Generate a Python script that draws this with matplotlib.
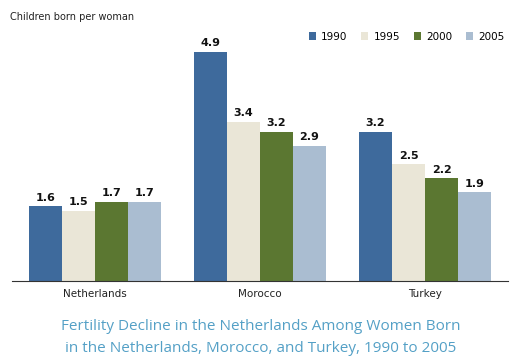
import numpy as np
import matplotlib
matplotlib.use("Agg")
import matplotlib.pyplot as plt
from matplotlib.patches import Patch

countries = ["Netherlands", "Morocco", "Turkey"]
years = ["1990", "1995", "2000", "2005"]
v1990 = [1.6, 4.9, 3.2]
v1995 = [1.5, 3.4, 2.5]
v2000 = [1.7, 3.2, 2.2]
v2005 = [1.7, 2.9, 1.9]
series = [v1990, v1995, v2000, v2005]
colors = ["#3e6a9c", "#eae6d7", "#5b7731", "#aabdd1"]

fig = plt.figure(figsize=(5.22, 3.62), dpi=100)
ax = fig.add_axes([12/522, 1 - 281/362, 496/522, 251/362])

x = np.arange(len(countries))
w = 0.2
for i in range(4):
    pos = x + (i - 1.5) * w
    ax.bar(pos, series[i], width=w, color=colors[i], linewidth=0)
    for p, v in zip(pos, series[i]):
        ax.text(p, v + 0.08, "%.1f" % v, ha="center", va="bottom",
                fontsize=8, fontweight="bold", color="#111111")

ax.set_xlim(-0.503, 2.503)
ax.set_ylim(0, 251/46.7)
ax.set_yticks([])
ax.set_xticks(x)
ax.set_xticklabels(countries, fontsize=7.5, color="#222222")
ax.tick_params(axis="x", length=0, pad=6)
for s in ["top", "left", "right"]:
    ax.spines[s].set_visible(False)
ax.spines["bottom"].set_color("#333333")
ax.spines["bottom"].set_linewidth(0.8)

fig.text(10/522, 1 - 17/362, "Children born per woman", fontsize=7,
         color="#222222", va="center", ha="left")

handles = [Patch(facecolor=c, edgecolor="none") for c in colors]
fig.legend(handles, years, loc="center right", bbox_to_anchor=(514/522, 1 - 37/362),
           ncol=4, frameon=False, fontsize=7.5, handlelength=0.7, handleheight=0.8,
           handletextpad=0.5, columnspacing=1.3)

fig.text(0.5, 1 - 327/362, "Fertility Decline in the Netherlands Among Women Born",
         ha="center", va="center", fontsize=11, color="#54a0c6", family="Open Sans")
fig.text(0.5, 1 - 348/362, "in the Netherlands, Morocco, and Turkey, 1990 to 2005",
         ha="center", va="center", fontsize=11, color="#54a0c6", family="Open Sans")

fig.savefig("out.png", dpi=100)
